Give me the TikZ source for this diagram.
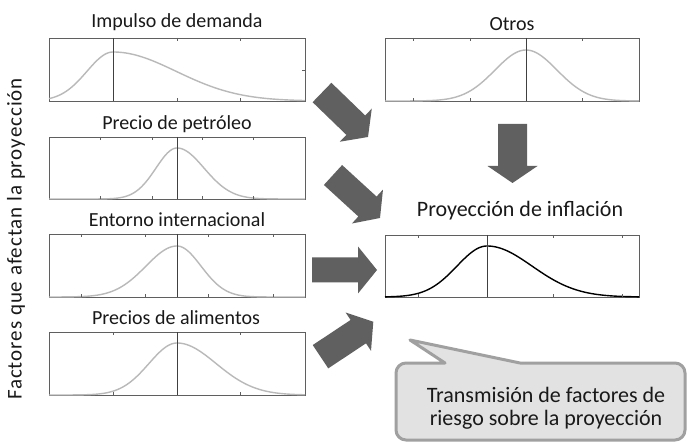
\documentclass[tikz,border=0pt]{standalone}
\usepackage{fontspec}
\setmainfont{Carlito}
\newfontfamily\spacedfont[LetterSpace=4.5]{Carlito}
\usetikzlibrary{calc}
\definecolor{txt}{RGB}{25,25,25}
\definecolor{framegray}{RGB}{95,95,95}
\definecolor{curvegray}{RGB}{185,185,185}
\definecolor{arrowfill}{RGB}{96,96,96}
\definecolor{calloutfill}{RGB}{226,226,226}
\definecolor{calloutdraw}{RGB}{160,160,160}
\newcommand\myarrow[5]{% #1 start, #2 tip, #3 half shaft, #4 half head, #5 head length
  \coordinate (hb) at ($(#2)!#5!(#1)$);
  \fill[arrowfill] ($(#1)!#3!90:(#2)$) -- ($(hb)!#3!90:(#2)$) -- ($(hb)!#4!90:(#2)$) -- (#2)
    -- ($(hb)!#4!-90:(#2)$) -- ($(hb)!#3!-90:(#2)$) -- ($(#1)!#3!-90:(#2)$) -- cycle;
}
\begin{document}
\begin{tikzpicture}[x=1bp,y=-1bp,
  plotbox/.style={draw=framegray, line width=0.9bp, inner sep=0pt, minimum width=256bp, minimum height=63bp},
  title/.style={font=\fontsize{20bp}{24bp}\selectfont, text=txt, inner sep=0pt, anchor=base},
  curve/.style={draw=curvegray, line width=1.4bp},
  darkcurve/.style={draw=black, line width=1.4bp},
  tickmark/.style={draw=framegray, line width=0.7bp},
  vline/.style={draw=black!75, line width=0.8bp},
]
\useasboundingbox[fill=white] (0,0) rectangle (688,442);

% vertical label
\node[rotate=90, font=\spacedfont\fontsize{21bp}{25bp}\selectfont, text=txt, inner sep=0pt] (lab) at (16,239) {Factores que afectan la proyección};

% ---- Impulso de demanda
\node[title] (t1) at (177,28) {Impulso de demanda};
\node[plotbox] (b1) at (177,69.5) {};
\draw[curve] plot[domain=49:305, samples=120] (\x, {101-49*exp(-0.5*((\x-113)/((\x<113)?26:63))^2)});
\draw[vline] (113,38) -- (113,101);
\foreach \t in {177,240} \draw[tickmark] (\t,38) -- ++(0,3) (\t,101) -- ++(0,-3);
\draw[tickmark] (305,70) -- ++(-3,0);

% ---- Precio de petróleo
\node[title] (t2) at (177,130) {Precio de petróleo};
\node[plotbox, minimum height=62bp] (b2) at (177,168) {};
\draw[curve] plot[domain=49:305, samples=120] (\x, {199-51*exp(-0.5*((\x-177)/((\x<177)?21:27))^2)});
\draw[vline] (177,137) -- (177,199);
\foreach \t in {100,152,202,253} \draw[tickmark] (\t,137) -- ++(0,3) (\t,199) -- ++(0,-3);

% ---- Entorno internacional
\node[title] (t3) at (177,227) {Entorno internacional};
\node[plotbox] (b3) at (177,265.5) {};
\draw[curve] plot[domain=49:305, samples=120] (\x, {297-51*exp(-0.5*((\x-177)/((\x<177)?31:24))^2)});
\draw[vline] (177,234) -- (177,297);
\foreach \t in {81,145,208,273} \draw[tickmark] (\t,234) -- ++(0,3) (\t,297) -- ++(0,-3);

% ---- Precios de alimentos
\node[title] (t4) at (176,325) {Precios de alimentos};
\node[plotbox] (b4) at (177,363.5) {};
\draw[curve] plot[domain=49:305, samples=120] (\x, {395-52*exp(-0.5*((\x-177)/((\x<177)?28:39))^2)});
\draw[vline] (177,332) -- (177,395);
\foreach \t in {113,240} \draw[tickmark] (\t,332) -- ++(0,3) (\t,395) -- ++(0,-3);

% ---- Otros
\node[title] (t5) at (512,31) {Otros};
\node[plotbox, minimum width=254bp] (b5) at (512,69.5) {};
\draw[curve] plot[domain=385:639, samples=120] (\x, {101-51*exp(-0.5*((\x-526)/31)^2)});
\draw[vline] (526,38) -- (526,101);
\foreach \t in {413,470,582} \draw[tickmark] (\t,38) -- ++(0,3) (\t,101) -- ++(0,-3);

% ---- Proyeccion de inflacion
\node[title, font=\fontsize{22bp}{26bp}\selectfont] (t6) at (520,217) {Proyección de inflación};
\node[plotbox, minimum width=254bp, minimum height=62bp] (b6) at (512,266) {};
\draw[darkcurve] plot[domain=385:639, samples=120] (\x, {297-51*exp(-0.5*((\x-487)/((\x<487)?30:45))^2)});
\draw[vline] (487,235) -- (487,297);
\foreach \t in {418,553,622} \draw[tickmark] (\t,235) -- ++(0,3) (\t,297) -- ++(0,-3);

% ---- block arrows
\coordinate (a1s) at (322,92.5);  \coordinate (a1e) at (368,137);
\coordinate (a2s) at (333,175);   \coordinate (a2e) at (380,218);
\coordinate (a3s) at (312,270);   \coordinate (a3e) at (377,270);
\coordinate (a4s) at (320.5,356.7); \coordinate (a4e) at (373.3,321.7);
\coordinate (a5s) at (512.5,124); \coordinate (a5e) at (512.5,183);
\myarrow{a1s}{a1e}{13.5bp}{23bp}{17bp}
\myarrow{a2s}{a2e}{13.5bp}{23bp}{17bp}
\myarrow{a3s}{a3e}{12.5bp}{23.5bp}{19bp}
\myarrow{a4s}{a4e}{14bp}{23bp}{18bp}
\myarrow{a5s}{a5e}{14.5bp}{25bp}{17bp}

% ---- callout
\draw[fill=calloutfill, draw=calloutdraw, line width=3bp, line join=round]
  (445,363) -- (410,340) -- (520,363) -- (675,363) arc[start angle=90, end angle=0, radius=10bp]
  -- (685,430) arc[start angle=0, end angle=-90, radius=10bp]
  -- (406,440) arc[start angle=270, end angle=180, radius=10bp]
  -- (396,373) arc[start angle=180, end angle=90, radius=10bp] -- cycle;
\node[align=center, text=txt, font=\fontsize{22bp}{23bp}\selectfont, inner sep=0pt] (co) at (546,408) {Transmisión de factores de\\riesgo sobre la proyección};
\end{tikzpicture}
\end{document}
